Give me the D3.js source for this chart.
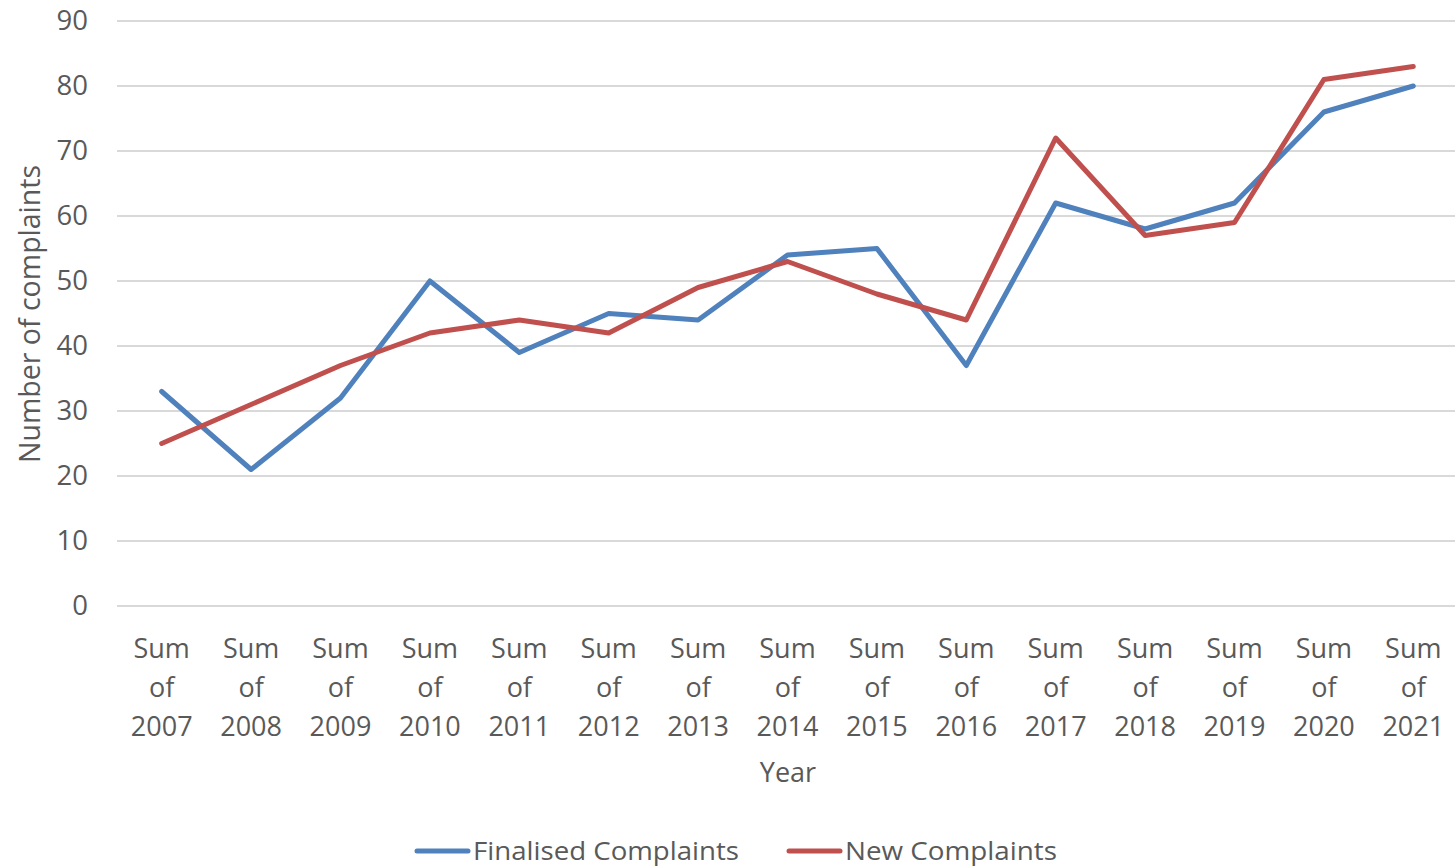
<!DOCTYPE html>
<html>
<head>
  <meta charset="utf-8">
  <title>Complaints</title>
  <script src="https://d3js.org/d3.v7.min.js"></script>
  <style>
    body { margin: 0; background: #fff; }
    text { font-family: "Open Sans", sans-serif; fill: #595959; }
  </style>
</head>
<body>
  <svg width="1455" height="867"></svg>
  <script>
    // data
    var years = ["2007", "2008", "2009", "2010", "2011", "2012", "2013", "2014",
                 "2015", "2016", "2017", "2018", "2019", "2020", "2021"];
    var finalised = [33, 21, 32, 50, 39, 45, 44, 54, 55, 37, 62, 58, 62, 76, 80];
    var newComplaints = [25, 31, 37, 42, 44, 42, 49, 53, 48, 44, 72, 57, 59, 81, 83];
    var yTicks = [0, 10, 20, 30, 40, 50, 60, 70, 80, 90];
    var seriesNames = ["Finalised Complaints", "New Complaints"];
    var seriesColors = ["#4F81BD", "#C0504D"];

    var svg = d3.select("svg");

    var x = d3.scaleBand()
      .domain(years)
      .range([117, 1458]);

    var y = d3.scaleLinear()
      .domain([0, 90])
      .range([606, 21]);

    // gridlines
    svg.append("g")
      .selectAll("line")
      .data(yTicks)
      .enter()
      .append("line")
      .attr("x1", 117)
      .attr("x2", 1455)
      .attr("y1", function(d) { return y(d); })
      .attr("y2", function(d) { return y(d); })
      .attr("stroke", "#d9d9d9")
      .attr("stroke-width", 2);

    // y axis labels
    var yAxis = svg.append("g")
      .attr("transform", "translate(117, 0)")
      .call(d3.axisLeft(y).tickValues(yTicks).tickSize(0).tickPadding(29));
    yAxis.select(".domain").remove();
    yAxis.selectAll("text")
      .style("font-size", "27.5px")
      .attr("fill", "#595959");

    // x axis labels, three lines each
    var xLab = svg.append("g")
      .selectAll("text")
      .data(years)
      .enter()
      .append("text")
      .attr("text-anchor", "middle")
      .style("font-size", "27px")
      .attr("x", function(d) { return x(d) + x.bandwidth() / 2; })
      .attr("y", 658);
    xLab.append("tspan")
      .attr("x", function(d) { return x(d) + x.bandwidth() / 2; })
      .text("Sum");
    xLab.append("tspan")
      .attr("x", function(d) { return x(d) + x.bandwidth() / 2; })
      .attr("dy", 39)
      .text("of");
    xLab.append("tspan")
      .attr("x", function(d) { return x(d) + x.bandwidth() / 2; })
      .attr("dy", 39)
      .text(function(d) { return d; });

    // axis titles
    svg.append("text")
      .attr("x", 788)
      .attr("y", 782)
      .attr("text-anchor", "middle")
      .style("font-size", "27px")
      .text("Year");

    svg.append("text")
      .attr("transform", "translate(40, 314) rotate(-90)")
      .attr("text-anchor", "middle")
      .style("font-size", "28.5px")
      .text("Number of complaints");

    // lines
    var line = d3.line()
      .x(function(d, i) { return x(years[i]) + x.bandwidth() / 2; })
      .y(function(d) { return y(d); });

    [finalised, newComplaints].forEach(function(vals, k) {
      svg.append("path")
        .datum(vals)
        .attr("d", line)
        .attr("fill", "none")
        .attr("stroke", seriesColors[k])
        .attr("stroke-width", 5)
        .attr("stroke-linecap", "round")
        .attr("stroke-linejoin", "round");
    });

    // legend
    var legX = [415, 787];
    var legW = [266, 212];
    seriesNames.forEach(function(name, k) {
      svg.append("line")
        .attr("x1", legX[k] + 2)
        .attr("x2", legX[k] + 53)
        .attr("y1", 851)
        .attr("y2", 851)
        .attr("stroke", seriesColors[k])
        .attr("stroke-width", 5)
        .attr("stroke-linecap", "round");
      svg.append("text")
        .attr("x", legX[k] + 58)
        .attr("y", 860)
        .style("font-size", "26px")
        .attr("textLength", legW[k])
        .attr("lengthAdjust", "spacingAndGlyphs")
        .text(name);
    });
  </script>
</body>
</html>
